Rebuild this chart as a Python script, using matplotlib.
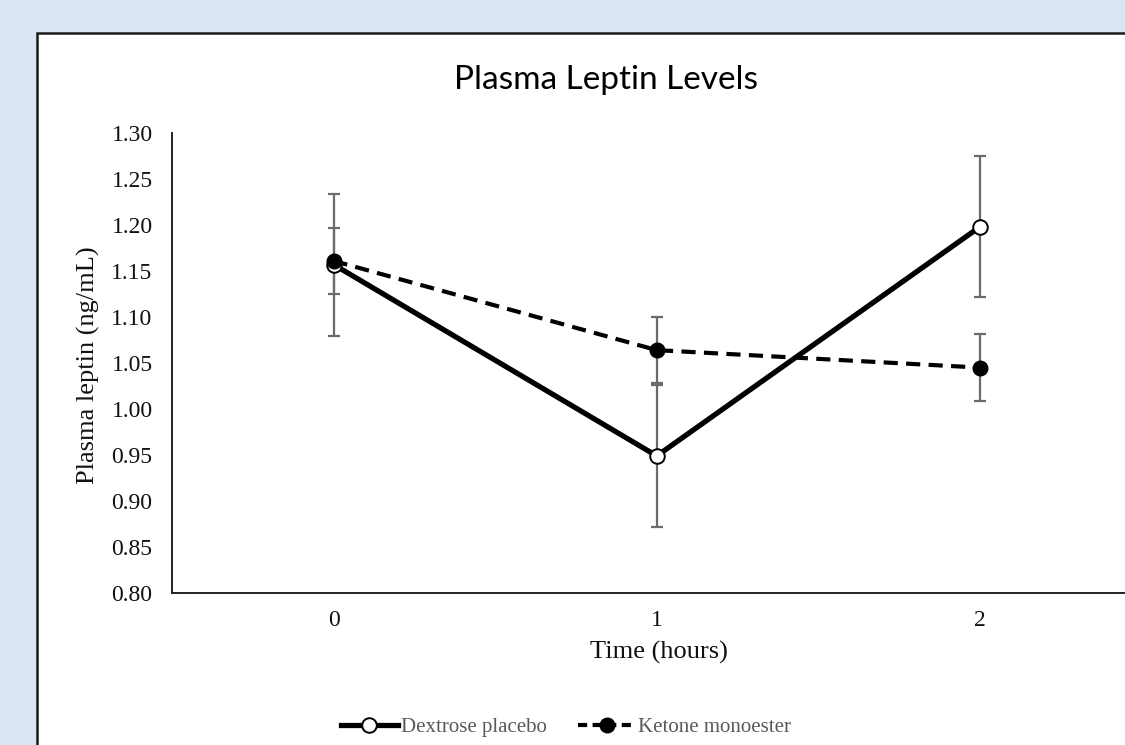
import matplotlib
matplotlib.use("Agg")
import matplotlib.pyplot as plt
from matplotlib.patches import Rectangle
from matplotlib.lines import Line2D

# Data
times = ["0", "1", "2"]
dextrose = [1.157, 0.949, 1.198]
dextrose_err_hi = [0.077, 0.077, 0.077]
dextrose_err_lo = [0.078, 0.077, 0.076]
ketone = [1.161, 1.064, 1.045]
ketone_err = [0.036, 0.036, 0.036]
yticks = [0.80, 0.85, 0.90, 0.95, 1.00, 1.05, 1.10, 1.15, 1.20, 1.25, 1.30]

W, H = 1125, 745
fig = plt.figure(figsize=(W / 100, H / 100), dpi=100)
fig.patch.set_facecolor("#dce6f2")

# white chart frame (extends beyond right/bottom edge)
frame = Rectangle((37 / W, 0 - 0.05), 1.2, (H - 33) / H + 0.05, transform=fig.transFigure,
                  facecolor="white", edgecolor="#1a1a1a", linewidth=1.8, zorder=-5)
fig.patches.append(frame)

ax = fig.add_axes([172 / W, (H - 593) / H, (1141.5 - 172) / W, (593 - 133) / H])
ax.set_facecolor("none")
ax.set_zorder(2)
x = list(range(len(times)))

serif = "Liberation Serif"
err_col = "#6b6b6b"

ax.errorbar(x, dextrose, yerr=[dextrose_err_lo, dextrose_err_hi], fmt="none",
            ecolor=err_col, elinewidth=1.6, capsize=4.5, capthick=1.6, zorder=2)
ax.errorbar(x, ketone, yerr=ketone_err, fmt="none",
            ecolor=err_col, elinewidth=1.6, capsize=4.5, capthick=1.6, zorder=2)
ax.plot(x, dextrose, color="black", linewidth=3.8, linestyle="-", marker="o",
        markersize=10.5, markerfacecolor="white", markeredgecolor="black",
        markeredgewidth=1.4, zorder=3, label="Dextrose placebo")
ax.plot(x, ketone, color="black", linewidth=3.0, linestyle=(0, (3.4, 2.0)), marker="o",
        markersize=10.5, markerfacecolor="black", markeredgecolor="black",
        zorder=4, label="Ketone monoester")

ax.set_xlim(-0.5, 2.5)
ax.set_ylim(0.80, 1.30)
ax.set_xticks(x)
ax.set_xticklabels(times)
ax.set_yticks(yticks)
ax.set_yticklabels([f"{v:.2f}" for v in yticks])
ax.tick_params(axis="both", length=0, labelsize=17, labelcolor="#111111")
ax.tick_params(axis="y", pad=14)
ax.tick_params(axis="x", pad=12)
for lab in ax.get_xticklabels() + ax.get_yticklabels():
    lab.set_fontfamily(serif)
for s in ["top", "right"]:
    ax.spines[s].set_visible(False)
for s in ["left", "bottom"]:
    ax.spines[s].set_linewidth(1.4)
    ax.spines[s].set_color("#222222")

fig.text(88 / W, 1 - 365 / H, "Plasma leptin (ng/mL)", rotation=90, ha="center", va="center",
         fontsize=19, family=serif, color="#111111")
fig.text(659 / W, 1 - 652 / H, "Time (hours)", ha="center", va="center",
         fontsize=19, family=serif, color="#111111")
fig.text(606 / W, 1 - 80 / H, "Plasma Leptin Levels", ha="center", va="center",
         fontsize=24, family="Lato", color="black")

handles = [
    Line2D([], [], color="black", linewidth=3.8, marker="o", markersize=10.5,
           markerfacecolor="white", markeredgecolor="black", markeredgewidth=1.4),
    Line2D([], [], color="black", linewidth=3.0, linestyle=(0, (2.2, 1.3)), marker="o",
           markersize=10.5, markerfacecolor="black", markeredgecolor="black"),
]
leg = fig.legend(handles, ["Dextrose placebo", "Ketone monoester"], loc="center",
                 bbox_to_anchor=(566 / W, 1 - 727 / H), ncol=2, frameon=False,
                 prop={"family": serif, "size": 15}, handlelength=2.75,
                 handletextpad=0.15, columnspacing=1.5, labelcolor="#595959")

fig.savefig("out.png", dpi=100)
